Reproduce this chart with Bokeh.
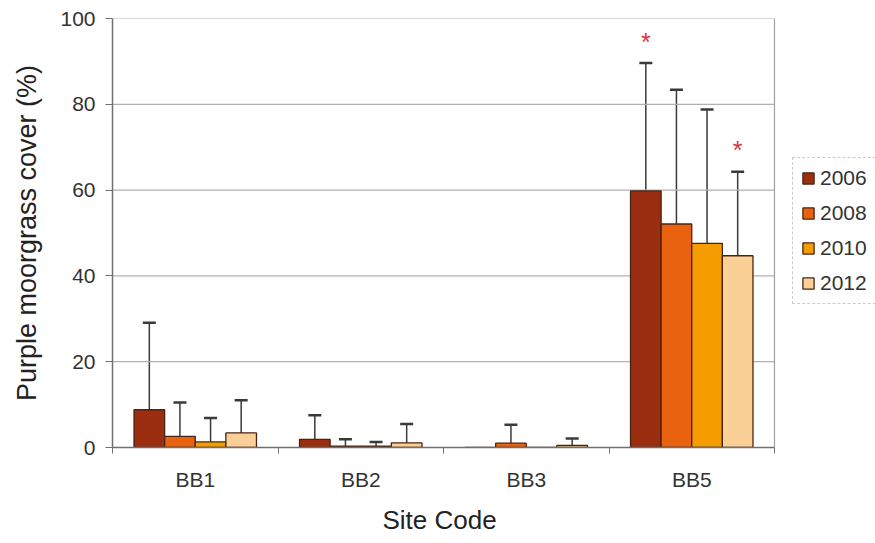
from bokeh.plotting import figure
from bokeh.models import (ColumnDataSource, FixedTicker, Legend, LegendItem,
                          Whisker, TeeHead, Range1d, Span, Title)
from bokeh.transform import dodge
from bokeh.core.properties import value
from bokeh.embed import file_html
from bokeh.resources import INLINE

# Mean purple moorgrass cover (%) per site and survey year, with upper error (SD)
sites = ["BB1", "BB2", "BB3", "BB5"]
years = ["2006", "2008", "2010", "2012"]
mean_2006 = [8.8, 1.9, 0.0, 59.8]
mean_2008 = [2.6, 0.3, 1.0, 52.1]
mean_2010 = [1.3, 0.3, 0.0, 47.6]
mean_2012 = [3.4, 1.1, 0.5, 44.7]
upper_2006 = [29.1, 7.5, 0.0, 89.6]
upper_2008 = [10.5, 1.9, 5.3, 83.4]
upper_2010 = [6.9, 1.3, 0.0, 78.8]
upper_2012 = [11.0, 5.5, 2.1, 64.3]
# significant change flags (drawn as red asterisks above the error bar)
signif_2006 = [False, False, False, True]
signif_2012 = [False, False, False, True]
y_ticks = [0, 20, 40, 60, 80, 100]

means = [mean_2006, mean_2008, mean_2010, mean_2012]
uppers = [upper_2006, upper_2008, upper_2010, upper_2012]
colors = ["#9B2D10", "#E8620F", "#F59C00", "#FAD096"]

FONT = "Liberation Sans"
n_sites = len(sites)
bar_w = 0.185
offsets = [-1.5 * bar_w, -0.5 * bar_w, 0.5 * bar_w, 1.5 * bar_w]
x_centers = [i + 0.5 for i in range(n_sites)]

# The frame runs to the right edge so the legend can sit beside the bar area;
# the bar area itself spans x = 0..n_sites and is closed by a border line.
frame_left, bar_area_px, total_w = 112, 662, 875
x_end = n_sites * (total_w - frame_left) / bar_area_px

p = figure(width=total_w, height=543, output_backend="svg", toolbar_location=None,
           x_range=Range1d(0, x_end), y_range=Range1d(0, 100),
           min_border_left=frame_left, min_border_right=0,
           min_border_top=18, min_border_bottom=95)
p.background_fill_color = "white"
p.border_fill_color = "white"
p.outline_line_color = None

# horizontal grid lines across the bar area only
p.segment(x0=[0] * len(y_ticks), x1=[n_sites] * len(y_ticks), y0=y_ticks, y1=y_ticks,
          line_color="#b0b0b0", line_width=1.2)
p.add_layout(Span(location=n_sites, dimension="height",
                  line_color="#a0a0a0", line_width=1.2))

items = []
for k, yr in enumerate(years):
    src = ColumnDataSource(dict(x=x_centers, mean=means[k], upper=uppers[k]))
    r = p.vbar(x=dodge("x", offsets[k]), top="mean", width=bar_w, source=src,
               fill_color=colors[k], line_color="#4a2412", line_width=1.3)
    items.append(LegendItem(label=yr, renderers=[r]))

    keep = [i for i in range(n_sites) if uppers[k][i] > means[k][i]]
    esrc = ColumnDataSource(dict(x=[x_centers[i] for i in keep],
                                 mean=[means[k][i] for i in keep],
                                 upper=[uppers[k][i] for i in keep]))
    w = Whisker(source=esrc, base=dodge("x", offsets[k]), lower="mean", upper="upper",
                line_color="#3a3a3a", line_width=1.5, lower_head=None,
                upper_head=TeeHead(size=13, line_color="#3a3a3a", line_width=2.5))
    p.add_layout(w)

# asterisks for significant years at BB5
for k, flags in ((0, signif_2006), (3, signif_2012)):
    idx = [i for i, f in enumerate(flags) if f]
    ssrc = ColumnDataSource(dict(x=[x_centers[i] for i in idx],
                                 y=[uppers[k][i] + 5.0 for i in idx]))
    p.text(x=dodge("x", offsets[k]), y="y", text=value("*"), source=ssrc,
           text_color="#E0303A", text_font_size="25px", text_align="center",
           text_baseline="middle", text_font=value(FONT))

# axes
p.yaxis.ticker = FixedTicker(ticks=y_ticks)
p.yaxis.axis_label = "Purple moorgrass cover (%)"
p.xaxis.bounds = (0, n_sites)
p.xaxis.ticker = FixedTicker(ticks=x_centers, minor_ticks=list(range(n_sites + 1)))
p.xaxis.major_label_overrides = {x: s for x, s in zip(x_centers, sites)}
p.xaxis.minor_tick_out = 6
p.xaxis.minor_tick_in = 0
p.xaxis.minor_tick_line_color = "#707070"
p.yaxis.major_tick_out = 7
p.yaxis.major_tick_in = 0
p.yaxis.minor_tick_line_color = None
for ax in (p.xaxis, p.yaxis):
    ax.axis_line_color = "#707070"
    ax.axis_line_width = 1.5
    ax.major_label_text_font = FONT
    ax.major_label_text_font_size = "21px"
    ax.major_label_text_color = "#333333"
    ax.axis_label_text_font = FONT
    ax.axis_label_text_font_size = "27px"
    ax.axis_label_text_font_style = "normal"
    ax.axis_label_text_color = "#222222"
p.yaxis.major_tick_line_color = "#707070"
p.xaxis.major_tick_line_color = None
p.xaxis.major_label_standoff = 14
p.yaxis.major_label_standoff = 10
p.yaxis.axis_label_standoff = 15

# x-axis title, placed under the middle of the bar area
x_title = Title(text="Site Code", align="left", offset=270,
                text_font=FONT, text_font_size="26px", text_font_style="normal",
                text_color="#222222", standoff=18)
p.add_layout(x_title, "below")

p.xgrid.grid_line_color = None
p.ygrid.grid_line_color = None

# legend beside the bar area (offsets in screen pixels from the frame's lower left)
legend = Legend(items=items, location=(680, 143), orientation="vertical",
                label_text_font=FONT, label_text_font_size="21px",
                label_text_color="#333333",
                glyph_width=14, glyph_height=14, spacing=11, label_standoff=5,
                padding=8, margin=0,
                border_line_color="#9a9a9a", border_line_dash="2 1",
                background_fill_color="white")
p.add_layout(legend)

open("out.html", "w").write(file_html(p, INLINE))
